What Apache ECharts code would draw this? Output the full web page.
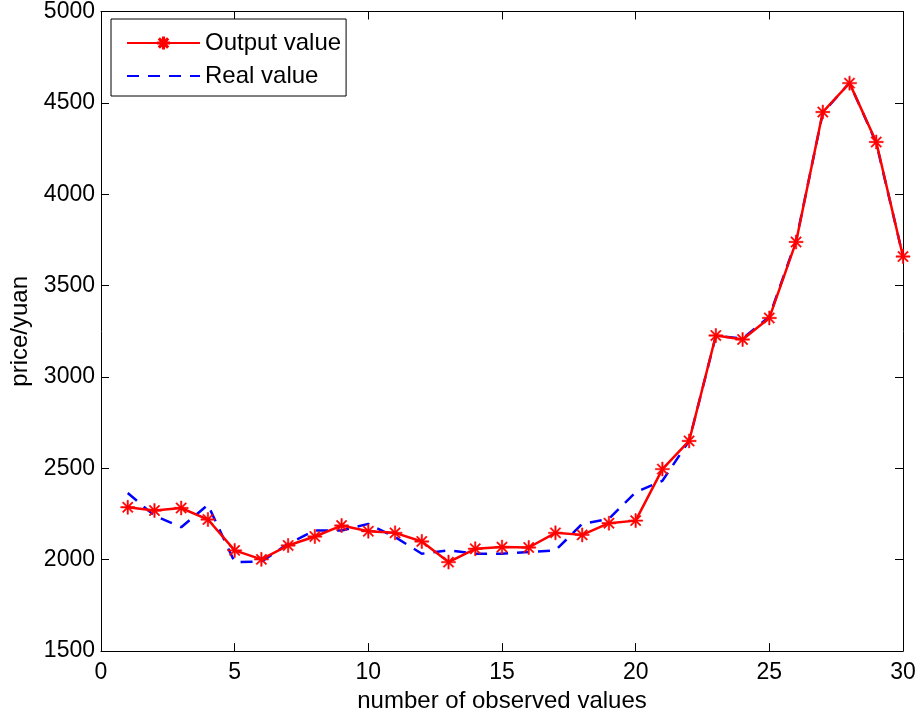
<!DOCTYPE html>
<html>
<head>
<meta charset="utf-8">
<script src="https://cdn.jsdelivr.net/npm/echarts@6/dist/echarts.min.js"></script>
<style>
  html, body { margin: 0; padding: 0; background: #fff; }
  #chart { width: 924px; height: 718px; }
</style>
</head>
<body>
<div id="chart"></div>
<script>
const observations = [1, 2, 3, 4, 5, 6, 7, 8, 9, 10, 11, 12, 13, 14, 15,
  16, 17, 18, 19, 20, 21, 22, 23, 24, 25, 26, 27, 28, 29, 30]
const outputValue = [2287, 2269, 2283, 2220, 2051, 2002, 2078, 2127, 2187, 2156,
  2147, 2100, 1987, 2060, 2069, 2067, 2147, 2136, 2200, 2214,
  2496, 2650, 3227, 3205, 3323, 3739, 4450, 4608, 4286, 3659]
const realValue = [2365, 2241, 2178, 2300, 1987, 1990, 2087, 2160, 2160, 2196,
  2124, 2033, 2051, 2033, 2033, 2042, 2051, 2196, 2224, 2369,
  2432, 2650, 3225, 3210, 3330, 3745, 4445, 4610, 4280, 3660]
const xTicks = { min: 0, max: 30, interval: 5 }
const yTicks = { min: 1500, max: 5000, interval: 500 }

// asterisk marker: plus + x made of thin bars
const asterisk = 'path://M-1,-10 L1,-10 L1,10 L-1,10 Z M-10,-1 L10,-1 L10,1 L-10,1 Z ' +
  'M-6.36,-7.78 L7.78,6.36 L6.36,7.78 L-7.78,-6.36 Z ' +
  'M-7.78,6.36 L6.36,-7.78 L7.78,-6.36 L-6.36,7.78 Z'

const font = 'Liberation Sans, Arial, Helvetica, sans-serif'
const black = '#000'

const chart = echarts.init(document.getElementById('chart'))

const baseAxis = (extra) => Object.assign({
  type: 'value',
  axisLine: { show: true, onZero: false, lineStyle: { color: black, width: 1 } },
  axisTick: { show: true, inside: true, length: 8, lineStyle: { color: black } },
  splitLine: { show: false },
  axisLabel: { color: black, fontSize: 23, fontFamily: font }
}, extra)

chart.setOption({
  animation: false,
  backgroundColor: '#fff',
  textStyle: { fontFamily: font },
  grid: { left: 97, right: 21, top: 11, bottom: 65 },
  legend: {
    left: 111,
    top: 19,
    orient: 'vertical',
    backgroundColor: '#fff',
    borderColor: black,
    borderWidth: 1,
    borderRadius: 0,
    padding: [12, 5, 8, 15],
    itemWidth: 73,
    itemHeight: 14,
    itemGap: 9,
    textStyle: { color: black, fontSize: 24, fontFamily: font },
    data: [
      'Output value',
      { name: 'Real value', itemStyle: { opacity: 0 } }
    ]
  },
  xAxis: [
    baseAxis({
      ...xTicks,
      name: 'number of observed values',
      nameLocation: 'middle',
      nameGap: 32,
      nameTextStyle: { color: black, fontSize: 24, fontFamily: font },
      axisLabel: { color: black, fontSize: 23, fontFamily: font, margin: 10 }
    }),
    baseAxis({ ...xTicks, position: 'top', axisLabel: { show: false } })
  ],
  yAxis: [
    baseAxis({
      ...yTicks,
      name: 'price/yuan',
      nameLocation: 'middle',
      nameGap: 69,
      nameTextStyle: { color: black, fontSize: 24, fontFamily: font },
      axisLabel: { color: black, fontSize: 23, fontFamily: font, margin: 6, formatter: v => String(v) }
    }),
    baseAxis({ ...yTicks, position: 'right', axisLabel: { show: false } })
  ],
  series: [
    {
      name: 'Real value',
      type: 'line',
      data: observations.map((x, i) => [x, realValue[i]]),
      symbol: 'none',
      lineStyle: { color: '#0000ff', width: 2.5, type: [12, 9] },
      itemStyle: { color: '#0000ff' },
      z: 2
    },
    {
      name: 'Output value',
      type: 'line',
      data: observations.map((x, i) => [x, outputValue[i]]),
      symbol: asterisk,
      symbolSize: 14,
      showAllSymbol: true,
      lineStyle: { color: '#ff0000', width: 2.5 },
      itemStyle: { color: '#ff0000', borderColor: '#ff0000', borderWidth: 0.5 },
      z: 3
    }
  ]
})
</script>
</body>
</html>
